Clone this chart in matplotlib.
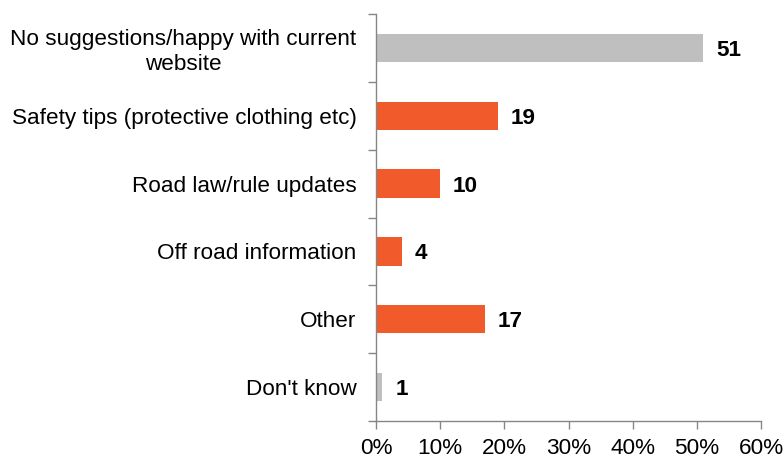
import matplotlib
matplotlib.use('Agg')
import matplotlib.pyplot as plt
from matplotlib.ticker import FixedLocator, PercentFormatter

categories = [
    'No suggestions/happy with current\nwebsite',
    'Safety tips (protective clothing etc)',
    'Road law/rule updates',
    'Off road information',
    'Other',
    "Don't know",
]
values = [51, 19, 10, 4, 17, 1]
colors = ['#BFBFBF', '#F15A2B', '#F15A2B', '#F15A2B', '#F15A2B', '#BFBFBF']
xticks = [0, 10, 20, 30, 40, 50, 60]

plt.rcParams['font.family'] = ['Liberation Sans', 'DejaVu Sans']
axis_col = '#868686'
fs = 16.2

fig = plt.figure(figsize=(7.83, 4.59), dpi=100)
ax = fig.add_axes((376 / 783, 1 - 421 / 459, 385 / 783, 407 / 459))

pos = list(range(len(categories)))
ax.barh(pos, values, height=0.42, color=colors)
ax.set_ylim(len(categories) - 0.5, -0.5)
ax.set_xlim(0, 60)

for p, v in zip(pos, values):
    ax.text(v + 2.0, p, f'{v}', va='center_baseline', ha='left',
            fontsize=fs, fontweight='bold', color='black')

# category labels sit between the boundary ticks
ax.set_yticks(pos)
ax.set_yticklabels(categories, fontsize=fs, ha='right', multialignment='center')
ax.tick_params(axis='y', which='major', length=0, pad=14)
ax.yaxis.set_minor_locator(FixedLocator([p - 0.5 for p in pos] + [len(pos) - 0.5]))
ax.tick_params(axis='y', which='minor', length=6, color=axis_col, width=1)

ax.set_xticks(xticks)
ax.xaxis.set_major_formatter(PercentFormatter(decimals=0))
ax.tick_params(axis='x', length=6, color=axis_col, width=1, labelsize=fs, pad=6)

for side in ('top', 'right'):
    ax.spines[side].set_visible(False)
for side in ('left', 'bottom'):
    ax.spines[side].set_color(axis_col)
    ax.spines[side].set_linewidth(1)

fig.savefig('out.png', dpi=100)
